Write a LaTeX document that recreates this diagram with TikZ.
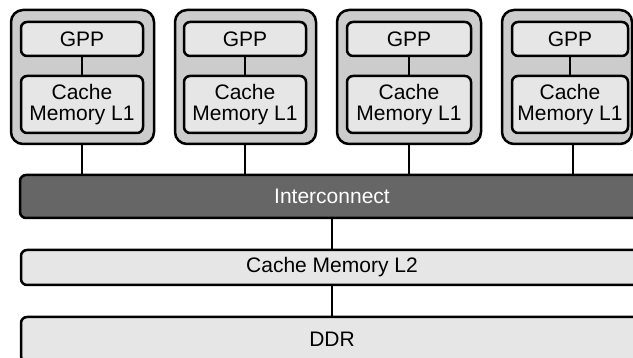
\documentclass[tikz,border=0pt]{standalone}
\usepackage{fontspec}
\setmainfont{Liberation Sans}
\definecolor{tilefill}{HTML}{CCCCCC}
\definecolor{boxfill}{HTML}{E6E6E6}
\definecolor{busfill}{HTML}{666666}
\begin{document}
\begin{tikzpicture}[x=1pt,y=-1pt,
  tile/.style={draw, line width=2.5pt, fill=tilefill, rounded corners=12pt, inner sep=0pt, minimum height=134pt},
  unit/.style={draw, line width=2.5pt, fill=boxfill, rounded corners=6pt, inner sep=0pt, align=center,
    font=\fontsize{21}{20.5}\selectfont},
  bar/.style={draw, line width=2.5pt, rounded corners=6pt, inner sep=0pt,
    font=\fontsize{21}{20.5}\selectfont},
  link/.style={line width=2pt}]
\useasboundingbox (0,0) rectangle (633,358);
\clip (0,0) rectangle (633,358);
% shared blocks
\node[bar, fill=busfill, text=white, minimum width=624pt, minimum height=43pt] (ic) at (332,196.5) {Interconnect};
\node[bar, fill=boxfill, minimum width=622pt, minimum height=35pt] (l2) at (332,267.5) {Cache Memory L2};
\node[bar, fill=boxfill, minimum width=622pt, minimum height=45pt] (ddr) at (332,339.5) {DDR};
% processor tiles
\foreach \i/\tx/\tw/\ix/\iw/\cx in {1/82.5/143/82/122/82, 2/245.5/141/245/122/245, 3/409/144/409/124/409, 4/567/130/570/116/573}{
  \node[tile, minimum width=\tw pt] (t\i) at (\tx,77) {};
  \node[unit, minimum width=\iw pt, minimum height=34pt] (g\i) at (\ix,39) {GPP};
  \node[unit, minimum width=\iw pt, minimum height=57pt] (m\i) at (\ix,104.5) {Cache\\Memory L1};
  \draw[link] (g\i) -- (m\i);
  \coordinate (c\i) at (\cx,0);
  \draw[link] (t\i.south -| c\i) -- (ic.north -| c\i);
}
\draw[link] (ic) -- (l2);
\draw[link] (l2) -- (ddr);
\end{tikzpicture}
\end{document}
